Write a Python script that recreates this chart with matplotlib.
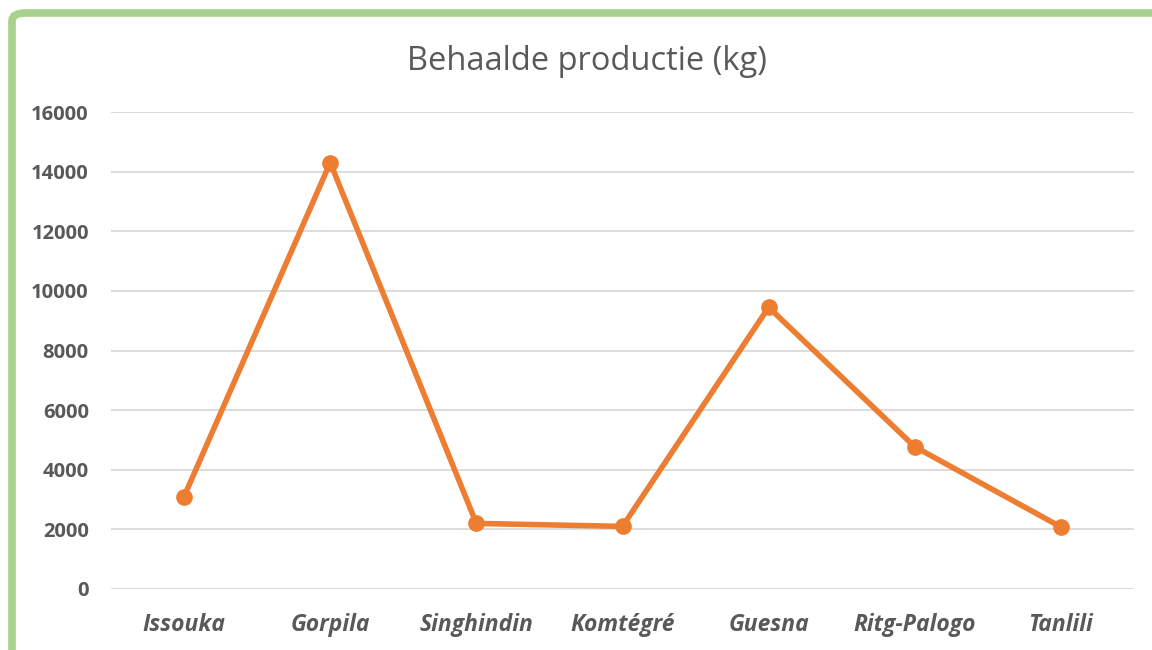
import matplotlib.pyplot as plt
from matplotlib.patches import FancyBboxPatch

villages = ['Issouka', 'Gorpila', 'Singhindin', 'Komtégré', 'Guesna', 'Ritg-Palogo', 'Tanlili']
production_kg = [3100, 14300, 2200, 2100, 9450, 4770, 2080]
y_ticks = [0, 2000, 4000, 6000, 8000, 10000, 12000, 14000, 16000]

grey = '#595959'
orange = '#ed7d31'

plt.rcParams['font.family'] = ['Open Sans', 'DejaVu Sans']

fig = plt.figure(figsize=(11.52, 6.5), dpi=100)

# green chart border (left + top visible, rest cropped off)
border = FancyBboxPatch((12 / 1152, -0.2), 1.2, (650 - 13) / 650 + 0.2,
                        boxstyle='round,pad=0,rounding_size=0.012',
                        transform=fig.transFigure, facecolor='none',
                        edgecolor='#a9d18e', linewidth=5.5, zorder=-10)
fig.patches.append(border)

ax = fig.add_axes([111 / 1152, 61 / 650, (1134 - 111) / 1152, (589 - 112) / 650])
ax.set_facecolor('none')

x = range(len(villages))
ax.plot(x, production_kg, color=orange, linewidth=4, marker='o',
        markersize=11, solid_capstyle='round', zorder=3)

ax.set_xlim(-0.5, len(villages) - 0.5)
ax.set_ylim(0, 16000)
ax.set_yticks(y_ticks)
ax.set_yticklabels([str(v) for v in y_ticks], fontsize=14.5, fontweight='bold', color=grey)
ax.set_xticks(list(x))
ax.set_xticklabels(villages, fontsize=16.5, fontweight='bold', fontstyle='italic', color=grey)
ax.tick_params(axis='both', length=0)
ax.tick_params(axis='y', pad=16)
ax.tick_params(axis='x', pad=17)

ax.grid(axis='y', color='#d9d9d9', linewidth=1.3)
ax.set_axisbelow(True)
for s in ax.spines.values():
    s.set_visible(False)

fig.text(587 / 1152, 1 - 61 / 650, 'Behaalde productie (kg)', fontsize=23.5,
         color=grey, ha='center', va='center')

fig.savefig('out.png', dpi=100)
